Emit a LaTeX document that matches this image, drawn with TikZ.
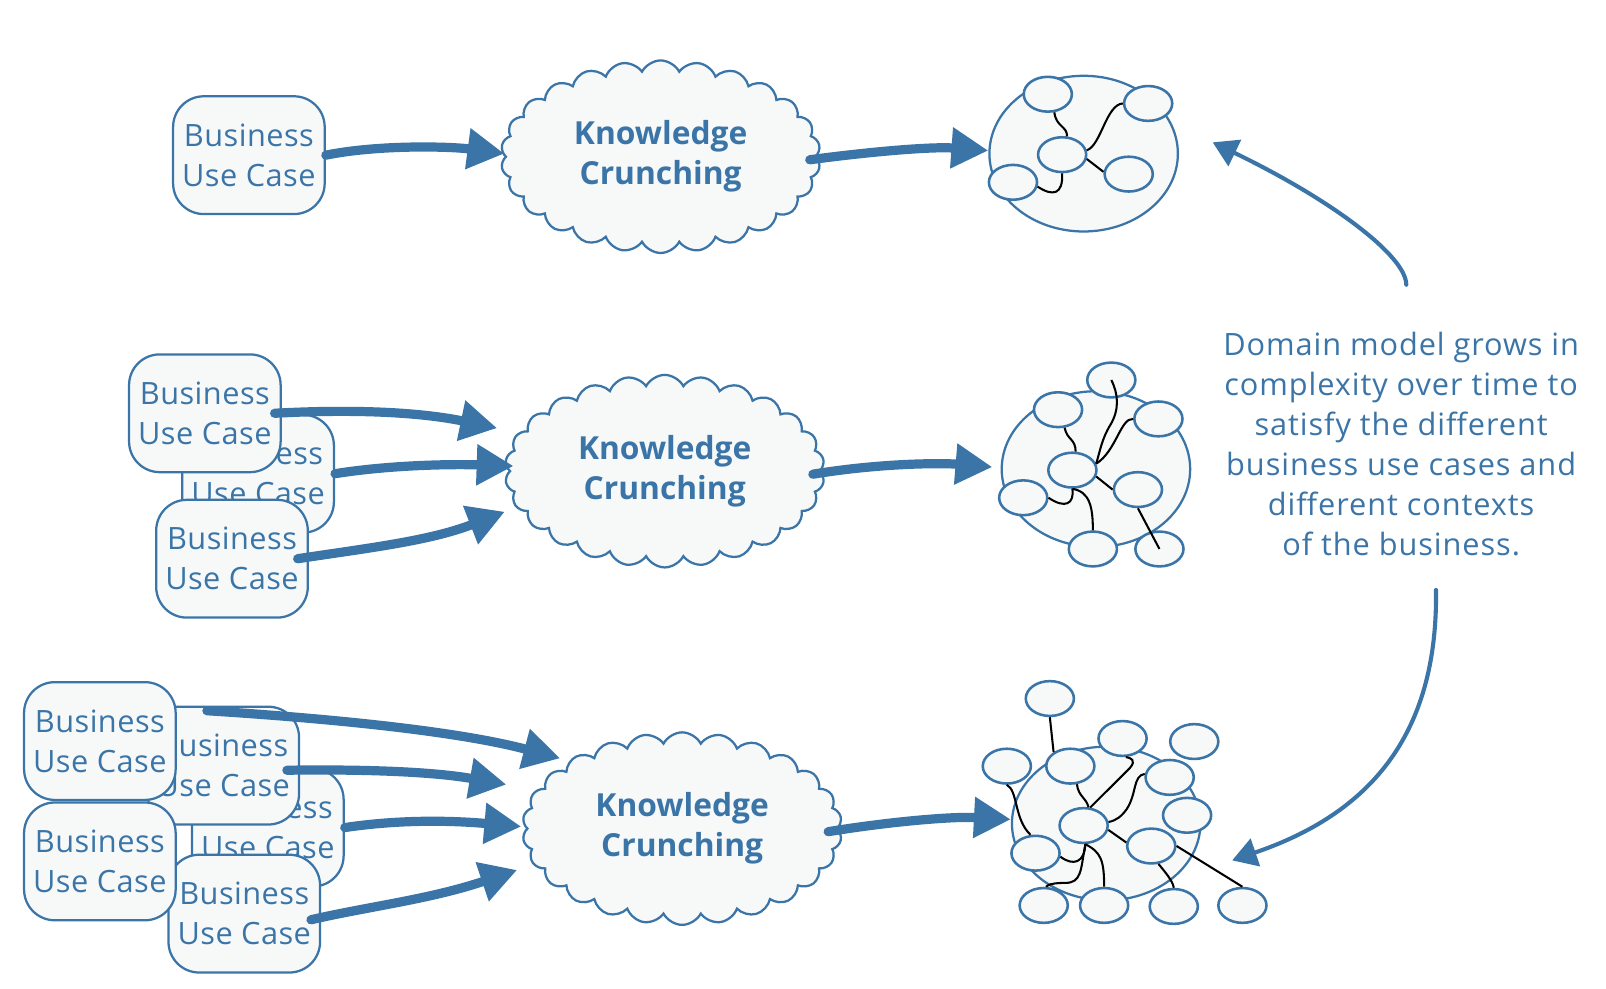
\documentclass[tikz,border=0pt]{standalone}
\usepackage{fontspec}
\setmainfont{Open Sans}
\usetikzlibrary{shapes.symbols,shapes.geometric,arrows.meta}
\definecolor{blu}{RGB}{59,117,168}
\definecolor{pale}{RGB}{247,249,249}
\tikzset{
 uc/.style={draw=blu, line width=2.2pt, fill=pale, rounded corners=30pt, minimum width=148pt, minimum height=115pt, align=center, text=blu, font=\fontsize{30}{39}\selectfont\addfontfeatures{LetterSpace=1.5}, inner sep=0pt},
 kc/.style={cloud, draw=blu, line width=2.2pt, fill=pale, cloud puffs=26, cloud puff arc=125, cloud ignores aspect, minimum width=312pt, minimum height=188pt, align=center, text=blu, font=\bfseries\fontsize{31}{39}\selectfont, inner sep=0pt},
 big/.style={ellipse, draw=blu, line width=2.2pt, fill=pale, minimum width=184pt, minimum height=152pt, inner sep=0pt},
 sm/.style={ellipse, draw=blu, line width=2.5pt, fill=pale, minimum width=47pt, minimum height=34pt, inner sep=0pt},
 link/.style={black, line width=2pt},
 fat/.style={blu, line width=9pt, line cap=round, -{Triangle[length=36pt,width=38pt]}},
 slim/.style={blu, line width=4pt, line cap=round, -{Triangle[length=24pt,width=28pt]}},
 note/.style={text=blu, align=center, font=\fontsize{30}{39}\selectfont\addfontfeatures{LetterSpace=3}, inner sep=0pt},
}
\begin{document}
\begin{tikzpicture}[x=1pt,y=-1pt]
\useasboundingbox[fill=white] (0,0) rectangle (1568,965.6);

% ---------------- row 1
\node[uc] (b1) at (243,151.5) {Business\\Use Case};
\node[kc] (k1) at (645,153) {Knowledge\\Crunching};
\node[big] (m1) at (1058,150) {};
\node[sm] (m1a) at (1023,92) {};
\node[sm] (m1b) at (1121,101) {};
\node[sm] (m1c) at (1037,151) {};
\node[sm] (m1d) at (1102,170) {};
\node[sm] (m1e) at (989,178) {};
\draw[link] (m1a.-70) .. controls (1031,124) and (1042,123) .. (m1c.75);
\draw[link] (m1c.10) .. controls (1075,142) and (1080,102) .. (m1b.west);
\draw[link] (m1c.-10) -- (m1d.175);
\draw[link] (m1c.south) .. controls (1038,190) and (1028,192) .. (m1e.-10);
\draw[fat] (b1.east) .. controls (370,141) and (440,143) .. ([yshift=3pt]k1.west);
\draw[fat] ([xshift=-7pt,yshift=-3pt]k1.east) .. controls (850,148) and (910,143) .. ([yshift=3pt]m1.west);

% ---------------- row 2
\node[uc] (b2b) at (252,462.5) {Business\\Use Case};
\node[uc] (b2a) at (200,403.5) {Business\\Use Case};
\node[uc] (b2c) at (226.5,545.5) {Business\\Use Case};
\node[kc] (k2) at (649,460) {Knowledge\\Crunching};
\node[big] (m2) at (1070,458) {};
\node[sm] (m2t) at (1085,371) {};
\node[sm] (m2ul) at (1033,400) {};
\node[sm] (m2r) at (1131,409) {};
\node[sm] (m2c) at (1047,459) {};
\node[sm] (m2mr) at (1111,478) {};
\node[sm] (m2l) at (999,486) {};
\node[sm] (m2bl) at (1067,536) {};
\node[sm] (m2br) at (1132,536) {};
\draw[link] (m2t.center) .. controls (1092,385) and (1093,400) .. (1084,415) .. controls (1076,428) and (1074,440) .. (m2c.15);
\draw[link] (m2r.west) .. controls (1094,408) and (1090,440) .. (m2c.15);
\draw[link] (m2ul.-70) .. controls (1042,430) and (1050,428) .. (m2c.80);
\draw[link] (m2c.-15) -- (m2mr.west);
\draw[link] (m2mr.south) -- (m2br.center);
\draw[link] (m2c.south) .. controls (1049,492) and (1040,497) .. (m2l.east);
\draw[link] (m2c.south) .. controls (1064,480) and (1067,495) .. (m2bl.north);
\draw[fat] ([xshift=-7pt]b2a.east) .. controls (350,399) and (413,403) .. ([xshift=-11pt,yshift=42pt]k2.west);
\draw[fat] (b2b.east) .. controls (380,454) and (440,453) .. ([xshift=5pt,yshift=5pt]k2.west);
\draw[fat] ([xshift=-11pt]b2c.east) .. controls (360,535) and (420,528) .. ([xshift=-3.5pt,yshift=-39.6pt]k2.west);
\draw[fat] ([xshift=-8pt,yshift=-3pt]k2.east) .. controls (860,452) and (920,452) .. ([xshift=-8pt,yshift=2pt]m2.west);

% ---------------- row 3
\node[uc] (d3) at (261.5,808) {Business\\Use Case};
\node[uc] (d2) at (218,747.5) {Business\\Use Case};
\node[uc] (d1) at (97.5,723.5) {Business\\Use Case};
\node[uc] (d5) at (238.5,892) {Business\\Use Case};
\node[uc] (d4) at (97.5,841) {Business\\Use Case};
\node[kc] (k3) at (666,809) {Knowledge\\Crunching};
\node[big, minimum height=150pt] (m3) at (1080,804) {};
\node[sm] (n1) at (1025,682) {};
\node[sm] (n2) at (1096,721) {};
\node[sm] (n6) at (1142,759) {};
\node[sm] (n3) at (1166,724) {};
\node[sm] (n4) at (983,748) {};
\node[sm] (n5) at (1045,748) {};
\node[sm] (n7) at (1159,796) {};
\node[sm] (n8) at (1058,806) {};
\node[sm] (n9) at (1124,826) {};
\node[sm] (n10) at (1011,833) {};
\node[sm] (n11) at (1019,884) {};
\node[sm] (n12) at (1078,884) {};
\node[sm] (n13) at (1146,885) {};
\node[sm] (n14) at (1213,884) {};
\draw[link] (n1.south) -- (n5.140);
\draw[link] (n2.-80) .. controls (1104,740) and (1110,742) .. (1103,750) -- (n8.70);
\draw[link] (n5.-70) .. controls (1053,778) and (1060,778) .. (n8.75);
\draw[link] (n6.172) .. controls (1106,757) and (1110,775) .. (1100,790) .. controls (1095,797) and (1090,801) .. (n8.8);
\draw[link] (n8.-10) -- (n9.172);
\draw[link] (n4.south) .. controls (994,772) and (990,800) .. (n10.105);
\draw[link] (n8.-85) .. controls (1059,842) and (1048,846) .. (n10.-8);
\draw[link] (n8.-85) .. controls (1055,850) and (1056,862) .. (1040,862) .. controls (1022,862) and (1021,866) .. (n11.80);
\draw[link] (n8.-85) .. controls (1075,832) and (1078,840) .. (n12.north);
\draw[link] (n9.-68) .. controls (1138,852) and (1145,860) .. (n13.north);
\draw[link] (n9.east) -- (n14.north);
\draw[fat] ([xshift=-16pt,yshift=-5pt]d2.north) .. controls (300,700) and (440,712) .. ([xshift=33.5pt,yshift=68.6pt]k3.west);
\draw[fat] ([xshift=-13pt,yshift=-4.5pt]d2.east) .. controls (350,751) and (420,753) .. ([xshift=-19pt,yshift=43pt]k3.west);
\draw[fat] (d3.east) .. controls (390,800) and (440,801) .. ([xshift=-4.5pt,yshift=2pt]k3.west);
\draw[fat] ([xshift=-10pt,yshift=-6pt]d5.east) .. controls (360,885) and (420,878) .. ([xshift=-8.5pt,yshift=-40.4pt]k3.west);
\draw[fat] ([xshift=-10pt,yshift=-3pt]k3.east) .. controls (870,802) and (930,797) .. ([yshift=4pt]m3.west);

% ---------------- note and curved arrows
\node[note] (txt) at (1368,433.5) {Domain model grows in\\complexity over time to\\satisfy the different\\business use cases and\\different contexts\\of the business.};
\coordinate (up) at (1373,278);
\coordinate (upend) at (1184,139);
\coordinate (dn) at (1402,576);
\coordinate (dnend) at (1203,840);
\draw[slim] (up) .. controls (1373,250) and (1300,195) .. (upend);
\draw[slim] (dn) .. controls (1404,720) and (1335,795) .. (dnend);
\end{tikzpicture}
\end{document}
